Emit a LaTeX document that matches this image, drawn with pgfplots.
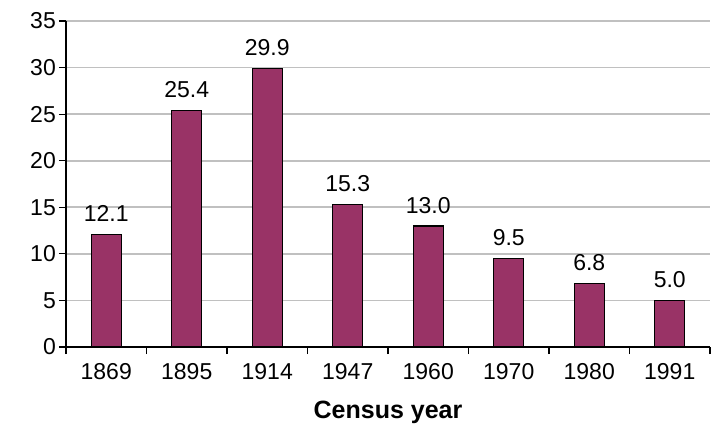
\documentclass[border=0pt]{standalone}
\usepackage{fontspec}
\setmainfont{Liberation Sans}
\usepackage{pgfplots}
\pgfplotsset{compat=1.18}
\definecolor{barcol}{HTML}{993366}
\definecolor{gridcol}{HTML}{C0C0C0}

\begin{document}
\begin{tikzpicture}
\begin{axis}[
    scale only axis,
    width=644pt, height=326pt,
    font=\fontsize{23}{27}\selectfont,
    /pgf/number format/assume math mode=true,
    xmin=-0.5, xmax=7.5,
    ymin=0, ymax=35,
    ytick={0,5,...,35},
    xtick={-0.5,0.5,...,7.5},
    xticklabels={},
    extra x ticks={0,...,7},
    extra x tick labels={1869,1895,1914,1947,1960,1970,1980,1991},
    extra x tick style={major tick length=0pt, grid=none},
    axis x line*=bottom, axis y line*=left,
    axis line style={-, black, line width=1.5pt},
    tick align=outside,
    major tick length=7pt,
    tick style={black, line width=1.2pt},
    ymajorgrids,
    major grid style={gridcol, line width=1.8pt},
    xticklabel style={inner sep=0pt, anchor=north, yshift=-16pt},
    yticklabel style={inner sep=0pt, anchor=east, xshift=-3pt},
    xlabel={\bfseries\fontsize{25}{29}\selectfont Census year},
    xlabel style={inner sep=0pt, at={(axis description cs:0.5,0)}, anchor=center, yshift=-65pt},
    ybar, bar width=30pt,
    nodes near coords,
    nodes near coords style={inner sep=0pt, anchor=south, yshift=12pt,
        /pgf/number format/.cd, fixed, fixed zerofill, precision=1},
]
\addplot[fill=barcol, draw=black, line width=1.2pt] coordinates {
    (0,12.1) (1,25.4) (2,29.9) (3,15.3) (4,13.0) (5,9.5) (6,6.8) (7,5.0)
};
\end{axis}
\path (current axis.south west) ++(-66pt,-85pt) coordinate (bl);
\path (current axis.north east) ++(4pt,21pt) coordinate (tr);
\useasboundingbox (bl) rectangle (tr);
\end{tikzpicture}
\end{document}
